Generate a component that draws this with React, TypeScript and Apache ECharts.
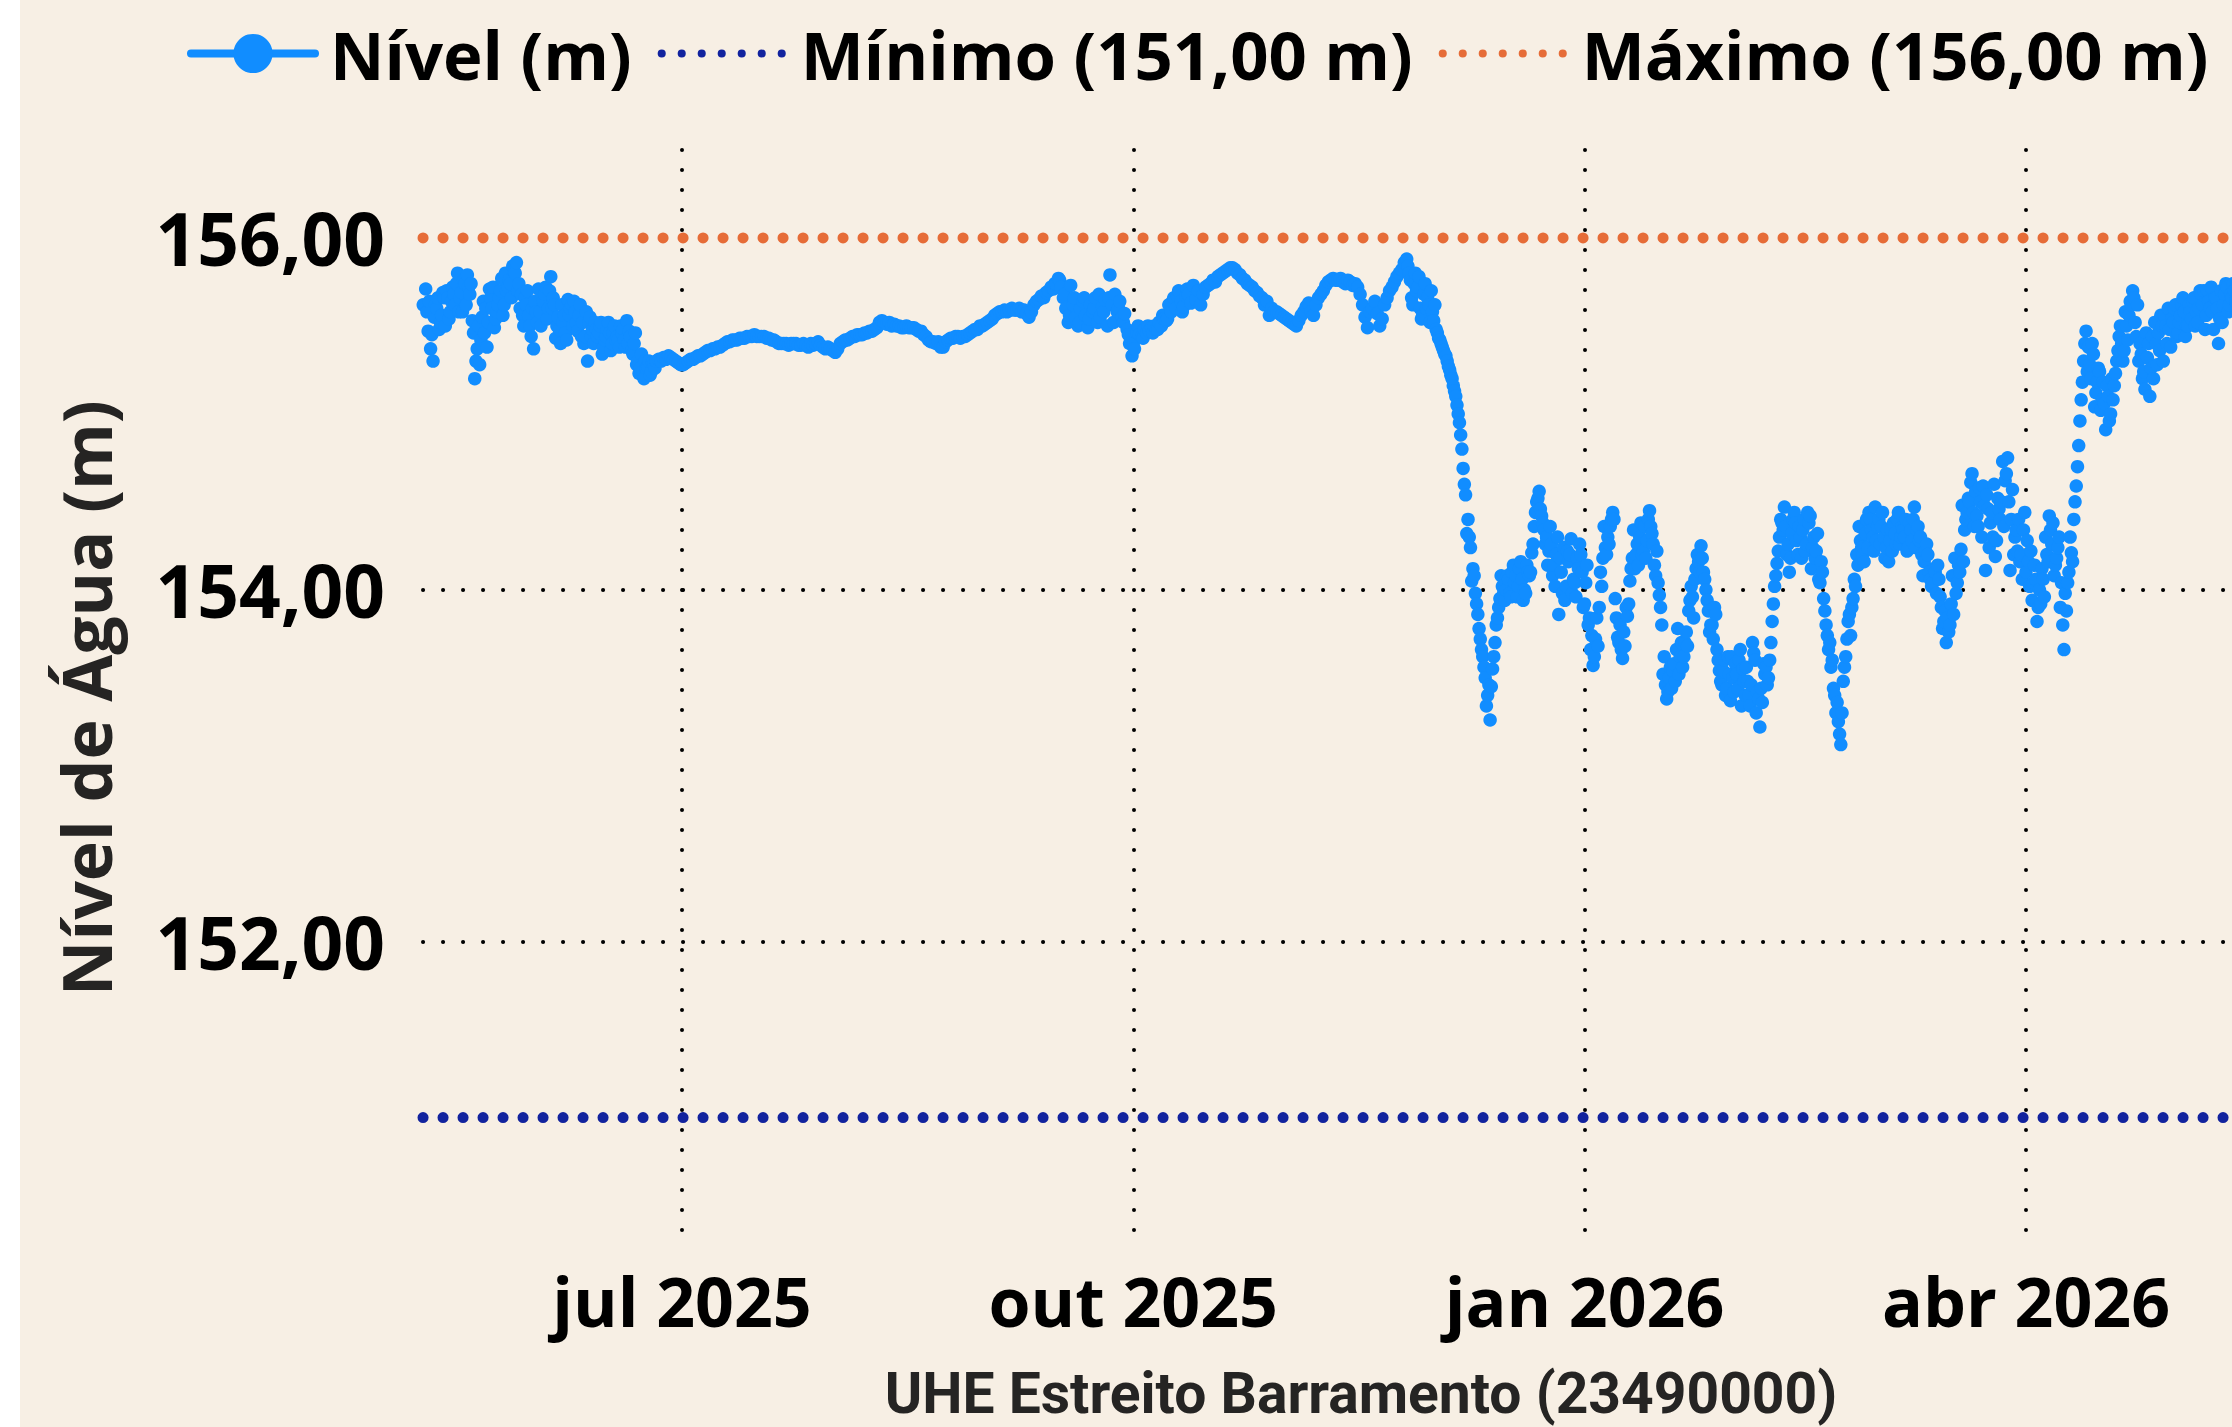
import React, { useEffect, useRef } from "react";
import * as echarts from "echarts";

// ---------- data ----------
const seriesNames = ["Nível (m)", "Mínimo (151,00 m)", "Máximo (156,00 m)"];
const stationTitle = "UHE Estreito Barramento (23490000)";
const yTitle = "Nível de Água (m)";
const HOUR = 3600 * 1000;

// main readings, two per day (06h / 18h), from 2025-05-09
const startTime = Date.UTC(2025, 4, 9, 6, 0, 0);
const stepHours = 12;
const levels = [
  155.62, 155.71, 155.47, 155.37, 155.30, 155.62, 155.66, 155.52, 155.69, 155.50, 155.66, 155.58, 155.72, 155.62, 155.80, 155.66, 155.58, 155.74, 155.79, 155.68,
  155.53, 155.20, 155.37, 155.28, 155.55, 155.46, 155.38, 155.71, 155.60, 155.49, 155.58, 155.66, 155.77, 155.62, 155.70, 155.76, 155.66, 155.81, 155.86, 155.74,
  155.68, 155.50, 155.62, 155.56, 155.44, 155.37, 155.58, 155.71, 155.50, 155.64, 155.72, 155.60, 155.78, 155.66, 155.43, 155.55, 155.40, 155.52, 155.46, 155.65,
  155.60, 155.50, 155.58, 155.47, 155.62, 155.52, 155.44, 155.30, 155.55, 155.48, 155.52, 155.44, 155.50, 155.34, 155.42, 155.48, 155.46, 155.40, 155.50, 155.44,
  155.38, 155.46, 155.42, 155.53, 155.47, 155.36, 155.40, 155.28, 155.23, 155.34, 155.20, 155.26, 155.30, 155.24, 155.28, 155.30, 155.31, 155.30, 155.32, 155.31,
  155.33, 155.32, 155.31, 155.30, 155.29, 155.28, 155.28, 155.29, 155.30, 155.31, 155.31, 155.32, 155.33, 155.33, 155.34, 155.35, 155.36, 155.36, 155.37, 155.37,
  155.38, 155.38, 155.39, 155.40, 155.41, 155.41, 155.42, 155.42, 155.42, 155.43, 155.43, 155.43, 155.44, 155.44, 155.44, 155.45, 155.44, 155.44, 155.44, 155.44,
  155.43, 155.43, 155.42, 155.42, 155.41, 155.40, 155.40, 155.40, 155.40, 155.39, 155.40, 155.40, 155.40, 155.39, 155.39, 155.40, 155.39, 155.38, 155.40, 155.39,
  155.40, 155.41, 155.39, 155.38, 155.37, 155.38, 155.37, 155.36, 155.35, 155.37, 155.40, 155.41, 155.42, 155.42, 155.43, 155.44, 155.44, 155.45, 155.45, 155.45,
  155.46, 155.46, 155.47, 155.47, 155.48, 155.49, 155.52, 155.53, 155.52, 155.51, 155.52, 155.50, 155.51, 155.50, 155.50, 155.49, 155.49, 155.50, 155.49, 155.49,
  155.49, 155.48, 155.47, 155.47, 155.45, 155.44, 155.42, 155.41, 155.41, 155.40, 155.41, 155.38, 155.38, 155.41, 155.42, 155.43, 155.43, 155.44, 155.44, 155.43,
  155.44, 155.44, 155.45, 155.46, 155.47, 155.48, 155.48, 155.50, 155.50, 155.51, 155.52, 155.53, 155.54, 155.56, 155.57, 155.58, 155.58, 155.59, 155.58, 155.59,
  155.60, 155.59, 155.59, 155.60, 155.58, 155.59, 155.57, 155.55, 155.58, 155.62, 155.64, 155.65, 155.67, 155.66, 155.69, 155.70, 155.72, 155.71, 155.74, 155.77,
  155.72, 155.66, 155.60, 155.52, 155.73, 155.62, 155.55, 155.50, 155.60, 155.64, 155.56, 155.49, 155.62, 155.58, 155.66, 155.52, 155.55, 155.61, 155.65, 155.50,
  155.79, 155.62, 155.68, 155.58, 155.64, 155.55, 155.57, 155.48, 155.40, 155.33, 155.37, 155.46, 155.45, 155.44, 155.48, 155.46, 155.47, 155.49, 155.50, 155.48,
  155.52, 155.50, 155.54, 155.53, 155.62, 155.58, 155.66, 155.60, 155.70, 155.64, 155.61, 155.67, 155.68, 155.63, 155.73, 155.65, 155.70, 155.62, 155.68, 155.72,
  155.73, 155.74, 155.76, 155.75, 155.78, 155.79, 155.80, 155.81, 155.82, 155.83, 155.83, 155.82, 155.80, 155.79, 155.77, 155.76, 155.74, 155.73, 155.72, 155.70,
  155.69, 155.67, 155.66, 155.62, 155.64, 155.56, 155.60, 155.58, 155.58, 155.57, 155.56, 155.55, 155.54, 155.53, 155.52, 155.51, 155.50, 155.53, 155.56, 155.58,
  155.61, 155.63, 155.58, 155.56, 155.62, 155.66, 155.68, 155.70, 155.73, 155.75, 155.76, 155.77, 155.76, 155.76, 155.77, 155.75, 155.74, 155.76, 155.75, 155.73,
  155.74, 155.72, 155.68, 155.62, 155.55, 155.49, 155.58, 155.60, 155.64, 155.57, 155.50, 155.54, 155.62, 155.66, 155.70, 155.72, 155.75, 155.78, 155.80, 155.82,
  155.86, 155.88, 155.80, 155.66, 155.74, 155.70, 155.78, 155.54, 155.68, 155.60, 155.62, 155.70, 155.53, 155.48, 155.43, 155.40, 155.36, 155.33, 155.27, 155.22,
  155.16, 155.10, 155.00, 154.88, 154.69, 154.54, 154.40, 154.24, 154.12, 153.98, 153.86, 153.72, 153.62, 153.50, 153.40, 153.26, 153.55, 153.70, 153.84, 153.95,
  154.02, 153.94, 154.08, 153.98, 154.10, 154.04, 153.96, 154.12, 154.06, 154.00, 154.14, 154.08, 154.21, 154.36, 154.50, 154.56, 154.42, 154.34, 154.30, 154.22,
  154.26, 154.14, 154.20, 153.86, 154.10, 154.24, 154.02, 154.16, 154.29, 154.06, 153.96, 154.12, 154.20, 153.90, 154.04, 153.80, 153.66, 153.57, 153.72, 153.68,
  154.10, 154.18, 154.24, 154.30, 154.36, 154.44, 153.95, 153.73, 153.80, 153.61, 153.68, 153.85, 154.05, 154.18, 154.12, 154.26, 154.30, 154.20, 154.36, 154.28,
  154.45, 154.32, 154.14, 154.22, 153.97, 153.80, 153.62, 153.38, 153.50, 153.44, 153.58, 153.66, 153.52, 153.70, 153.62, 153.76, 153.88, 154.02, 153.84, 154.12,
  154.16, 154.25, 154.10, 154.00, 153.88, 153.80, 153.72, 153.86, 153.60, 153.48, 153.54, 153.40, 153.62, 153.37, 153.50, 153.58, 153.44, 153.66, 153.55, 153.40,
  153.48, 153.34, 153.70, 153.60, 153.42, 153.22, 153.36, 153.52, 153.46, 153.60, 153.82, 154.02, 154.15, 154.30, 154.38, 154.47, 154.20, 154.10, 154.32, 154.44,
  154.28, 154.36, 154.18, 154.40, 154.26, 154.38, 154.12, 154.30, 154.22, 154.06, 154.16, 153.95, 153.80, 153.66, 153.56, 153.44, 153.30, 153.25, 153.12, 153.48,
  153.62, 153.82, 153.74, 153.95, 154.02, 154.14, 154.28, 154.20, 154.32, 154.24, 154.40, 154.30, 154.47, 154.36, 154.26, 154.44, 154.18, 154.34, 154.28, 154.22,
  154.32, 154.40, 154.26, 154.36, 154.30, 154.22, 154.38, 154.28, 154.47, 154.34, 154.28, 154.20, 154.16, 154.26, 154.10, 154.02, 154.12, 153.98, 154.06, 153.90,
  153.82, 153.70, 153.76, 153.92, 153.86, 153.98, 154.14, 154.23, 154.16, 154.40, 154.52, 154.61, 154.44, 154.56, 154.36, 154.50, 154.59, 154.11, 154.46, 154.38,
  154.30, 154.19, 154.52, 154.40, 154.73, 154.62, 154.75, 154.11, 154.57, 154.30, 154.22, 154.16, 154.06, 154.44, 154.28, 154.02, 153.94, 154.14, 153.82, 154.00,
  154.12, 153.96, 154.20, 154.42, 154.26, 154.08, 154.18, 154.30, 154.04, 153.66, 153.88, 154.10, 154.21, 154.40, 154.59, 154.82, 155.08, 155.30, 155.47, 155.38,
  155.20, 155.34, 155.12, 155.26, 155.02, 155.18, 154.91, 155.10, 155.00, 155.08, 155.23, 155.36, 155.50, 155.30, 155.58, 155.42, 155.64, 155.70, 155.52, 155.62,
  155.40, 155.20, 155.14, 155.32, 155.10, 155.44, 155.52, 155.28, 155.36, 155.50, 155.56, 155.40, 155.48, 155.54, 155.60, 155.44, 155.52, 155.62, 155.58, 155.50,
  155.62, 155.54, 155.66, 155.58, 155.60, 155.68, 155.70, 155.56, 155.64, 155.72, 155.48, 155.66, 155.40, 155.70, 155.62, 155.74, 155.58, 155.68, 155.74, 155.64,
];

// extra midnight (00h) readings during the noisy periods (one per day)
const extraMayStart = Date.UTC(2025, 4, 10, 0, 0, 0);
const extraMay = [
  155.58, 155.45, 155.60, 155.56, 155.70, 155.64, 155.74, 155.69, 155.62, 155.74,
  155.30, 155.42, 155.60, 155.66, 155.54, 155.70, 155.80, 155.74, 155.80, 155.60,
  155.66, 155.50, 155.64, 155.58, 155.68, 155.70, 155.62, 155.48, 155.56, 155.56,
  155.64, 155.56, 155.40, 155.52, 155.40, 155.46, 155.38, 155.52, 155.46, 155.42,
  155.48, 155.40, 155.34, 155.30, 155.24, 155.27, 155.29,
];
// extra midday (12h) readings, May–June
const extraMayNoonStart = Date.UTC(2025, 4, 10, 12, 0, 0);
const extraMayNoon = [
  155.64, 155.55, 155.48, 155.66, 155.54, 155.68, 155.58, 155.76, 155.72, 155.46,
  155.50, 155.64, 155.52, 155.72, 155.62, 155.56, 155.72, 155.84, 155.70, 155.56,
  155.70, 155.60, 155.52, 155.68, 155.54, 155.60, 155.50, 155.62, 155.42, 155.62,
  155.52, 155.44, 155.58, 155.44, 155.48, 155.52, 155.44, 155.36, 155.42, 155.50,
  155.38, 155.44, 155.46, 155.26, 155.30, 155.22, 155.26,
];
const extraSepStart = Date.UTC(2025, 8, 15, 0, 0, 0);
const extraSep = [
  155.74, 155.76, 155.68, 155.56, 155.66, 155.52, 155.66, 155.54, 155.60, 155.68,
  155.58, 155.66, 155.52, 155.60, 155.52, 155.45, 155.40, 155.50, 155.43, 155.50,
  155.46, 155.48, 155.56, 155.54, 155.64, 155.67, 155.58, 155.71,
];
const extraDecStart = Date.UTC(2025, 10, 26, 0, 0, 0);
const extraDec = [
  155.84, 155.62, 155.72, 155.56, 155.66, 155.58, 155.46, 155.38, 155.30, 155.20,
  155.05, 154.80, 154.32, 154.05, 153.92, 153.66, 153.34, 153.45, 153.80, 154.08,
  154.00, 153.96, 154.08, 154.16, 153.98, 154.10, 154.44, 154.46, 154.26, 154.36,
  154.02, 154.18, 153.94, 154.20, 154.04, 154.26, 153.92, 153.84, 153.62, 153.90,
  154.36, 154.26, 154.40, 153.70, 153.76, 153.92, 154.34, 154.14, 154.22, 154.40,
  154.26, 154.04, 153.52, 153.42, 153.54, 153.78, 153.56, 153.68, 153.96, 154.20,
  154.18, 153.94, 153.80, 153.66, 153.46, 153.44, 153.62, 153.52, 153.34, 153.56,
  153.46, 153.30, 153.44, 153.56, 153.70, 154.08, 154.40, 154.36, 154.18, 154.38,
  154.30, 154.22, 154.42, 154.18, 154.04, 153.88, 153.70, 153.40, 153.18, 153.56,
  153.86, 154.06, 154.36, 154.16, 154.44, 154.22, 154.40, 154.30, 154.16, 154.38,
  154.44, 154.34, 154.24, 154.40, 154.36, 154.08, 154.20, 154.04, 154.14, 153.78,
  153.84, 154.08, 154.04, 154.48, 154.44, 154.66, 154.42, 154.30, 154.54, 154.44,
  154.28, 154.50, 154.66, 154.40, 154.34, 154.20, 154.10, 154.22, 154.06, 153.92,
  154.30, 154.34, 154.14, 153.90, 153.98, 154.30, 154.50, 154.96, 155.40, 155.28,
  155.04, 155.24, 155.06, 154.96, 155.16, 155.44, 155.36, 155.56, 155.66, 155.30,
  155.24, 155.40, 155.20, 155.46, 155.30, 155.60, 155.52, 155.46, 155.66, 155.50,
  155.64, 155.52, 155.62, 155.70, 155.58, 155.60, 155.52, 155.72, 155.66,
];
// extra midday (12h) readings, December–May
const extraDecNoonStart = Date.UTC(2025, 10, 26, 12, 0, 0);
const extraDecNoon = [
  155.76, 155.80, 155.60, 155.74, 155.52, 155.62, 155.42, 155.34, 155.25, 155.13,
  154.95, 154.60, 154.30, 154.08, 153.78, 153.56, 153.46, 153.62, 153.90, 153.98,
  154.06, 154.14, 154.02, 153.94, 154.10, 154.26, 154.52, 154.38, 154.14, 154.08,
  154.30, 153.98, 154.22, 153.98, 154.18, 154.10, 154.14, 153.74, 153.84, 154.02,
  154.20, 154.40, 153.84, 153.66, 153.90, 154.12, 154.20, 154.38, 154.18, 154.36,
  154.08, 153.90, 153.46, 153.56, 153.48, 153.62, 153.70, 153.94, 154.06, 154.10,
  154.06, 153.76, 153.90, 153.54, 153.60, 153.52, 153.42, 153.60, 153.48, 153.40,
  153.64, 153.38, 153.58, 153.50, 153.92, 154.22, 154.34, 154.26, 154.40, 154.20,
  154.34, 154.44, 154.24, 154.32, 154.10, 153.74, 153.60, 153.36, 153.30, 153.72,
  153.90, 154.20, 154.24, 154.40, 154.34, 154.28, 154.36, 154.24, 154.34, 154.26,
  154.30, 154.40, 154.34, 154.24, 154.30, 154.22, 154.06, 154.10, 153.96, 153.88,
  153.80, 154.18, 154.10, 154.34, 154.50, 154.36, 154.58, 154.48, 154.24, 154.60,
  154.46, 154.36, 154.50, 154.20, 154.40, 154.34, 154.16, 154.04, 153.90, 154.06,
  154.16, 154.38, 154.24, 153.80, 154.04, 154.16, 154.70, 155.18, 155.24, 155.40,
  155.18, 155.08, 155.16, 155.20, 155.30, 155.40, 155.50, 155.62, 155.44, 155.34,
  155.46, 155.26, 155.40, 155.56, 155.50, 155.38, 155.62, 155.56, 155.44, 155.58,
  155.50, 155.70, 155.48, 155.60, 155.66, 155.54, 155.68, 155.62, 155.70,
];

const minLevel = 151;
const maxLevel = 156;
const yTickValues = [152, 154, 156];
const xTickDates = [Date.UTC(2025, 6, 1), Date.UTC(2025, 9, 1), Date.UTC(2026, 0, 1), Date.UTC(2026, 3, 1)];
const monthNames = ["jan", "fev", "mar", "abr", "mai", "jun", "jul", "ago", "set", "out", "nov", "dez"];
const xStart = Date.UTC(2025, 4, 9, 4, 48);
const xEnd = Date.UTC(2026, 4, 26, 15, 50);
const yMin = 150.27;
const yMax = 156.5;

// ---------- styles ----------
const BG = "#F7EFE4";
const BLUE = "#118DFF";
const NAVY = "#12239E";
const ORANGE = "#E66C37";
const TEXT = "#252423";
const FONT = "'Open Sans', 'Noto Sans', sans-serif";

const toPoints = (vals: number[], t0: number, stepH: number) =>
  vals.map((v, i) => [t0 + i * stepH * HOUR, v]);

export default function App() {
  const ref = useRef<HTMLDivElement>(null);

  useEffect(() => {
    if (!ref.current) return;
    const chart = echarts.init(ref.current, undefined, { renderer: "svg" });
    const levelData = [
      ...toPoints(levels, startTime, stepHours),
      ...toPoints(extraMay, extraMayStart, 24),
      ...toPoints(extraMayNoon, extraMayNoonStart, 24),
      ...toPoints(extraSep, extraSepStart, 24),
      ...toPoints(extraDec, extraDecStart, 24),
      ...toPoints(extraDecNoon, extraDecNoonStart, 24),
    ].sort((a, b) => a[0] - b[0]);
    const dotted = (color: string, width: number) => ({
      color,
      width,
      type: [0.1, 19.9] as number[],
      cap: "round" as const,
    });

    chart.setOption({
      animation: false,
      backgroundColor: BG,
      grid: { left: 403, right: 21, top: 150, bottom: 171, containLabel: false },
      legend: {
        left: 162,
        top: 15,
        itemWidth: 124,
        itemHeight: 49,
        itemGap: 26,
        selectedMode: false,
        textStyle: {
          fontFamily: FONT,
          fontWeight: "bold",
          fontSize: 67,
          color: "#000",
          padding: [0, 0, 0, 10],
        },
        data: [
          {
            name: seriesNames[0],
            lineStyle: { width: 8, color: BLUE, cap: "round", opacity: 1, type: "solid" },
            itemStyle: { color: BLUE, opacity: 1 },
          },
          {
            name: seriesNames[1],
            lineStyle: dotted(NAVY, 8),
            itemStyle: { opacity: 0 },
          },
          {
            name: seriesNames[2],
            lineStyle: dotted(ORANGE, 8),
            itemStyle: { opacity: 0 },
          },
        ],
      },
      xAxis: {
        type: "value",
        min: xStart,
        max: xEnd,
        axisLine: { show: false },
        axisTick: { show: false, customValues: xTickDates },
        axisLabel: {
          customValues: xTickDates,
          formatter: (val: number) => {
            const d = new Date(val);
            return monthNames[d.getUTCMonth()] + " " + d.getUTCFullYear();
          },
          fontFamily: FONT,
          fontWeight: "bold",
          fontSize: 68,
          color: "#000",
          margin: 20,
        },
        splitLine: { show: true, lineStyle: dotted("#000", 4) },
        name: stationTitle,
        nameLocation: "middle",
        nameGap: 119,
        nameTextStyle: {
          fontFamily: "Roboto, sans-serif",
          fontWeight: "bold",
          fontSize: 57,
          color: TEXT,
        },
      },
      yAxis: {
        type: "value",
        min: yMin,
        max: yMax,
        axisLine: { show: false },
        axisTick: { show: false, customValues: yTickValues },
        axisLabel: {
          customValues: yTickValues,
          formatter: (v: number) => v.toFixed(2).replace(".", ","),
          fontFamily: FONT,
          fontWeight: "bold",
          fontSize: 73,
          color: "#000",
          margin: 38,
        },
        splitLine: { show: true, lineStyle: dotted("#000", 4) },
        name: yTitle,
        nameLocation: "middle",
        nameGap: 304,
        nameTextStyle: {
          fontFamily: FONT,
          fontWeight: "bold",
          fontSize: 68,
          color: TEXT,
        },
      },
      series: [
        {
          name: seriesNames[0],
          type: "line",
          data: levelData,
          symbol: "circle",
          symbolSize: 13.5,
          showSymbol: true,
          showAllSymbol: true,
          lineStyle: { width: 0 },
          itemStyle: { color: BLUE },
          silent: true,
          z: 3,
        },
        {
          name: seriesNames[1],
          type: "line",
          data: [[xStart, minLevel], [xEnd, minLevel]],
          symbol: "none",
          lineStyle: dotted(NAVY, 11),
          itemStyle: { color: NAVY },
          silent: true,
          z: 2,
        },
        {
          name: seriesNames[2],
          type: "line",
          data: [[xStart, maxLevel], [xEnd, maxLevel]],
          symbol: "none",
          lineStyle: dotted(ORANGE, 11),
          itemStyle: { color: ORANGE },
          silent: true,
          z: 2,
        },
      ],
    });
    return () => chart.dispose();
  }, []);

  return (
    <div style={{ position: "fixed", left: 0, top: 0, width: "100vw", height: "100vh", overflow: "hidden", background: "#fff" }}>
      <div ref={ref} style={{ position: "absolute", left: 20, top: 0, width: 2300, height: 1427 }} />
    </div>
  );
}
